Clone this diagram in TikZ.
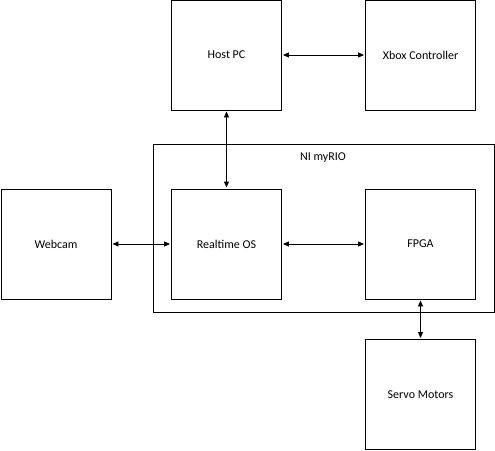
\documentclass[tikz,border=0pt]{standalone}
\usepackage{fontspec}
\setmainfont{Carlito}
\usetikzlibrary{arrows.meta,positioning}

\begin{document}
\begin{tikzpicture}[
    x=1pt, y=-1pt,
    >={Triangle[length=6pt,width=5pt]},
    block/.style={draw, line width=0.9pt, minimum width=110pt, minimum height=110pt, inner sep=0pt, align=center, font=\fontsize{12}{14}\selectfont},
    link/.style={<->, line width=0.9pt, shorten >=1pt, shorten <=1pt},
    title/.style={font=\fontsize{12}{14}\selectfont}
]
\useasboundingbox (0,0) rectangle (495,450);
% myRIO housing
\draw[line width=0.9pt] (153.5,144.5) rectangle (494,312);
\node[title] (rio) at (323,158) {NI myRIO};
% blocks
\node[block] (host) at (226.5,55) {Host PC};
\node[block] (xbox) at (420.5,55) {Xbox Controller};
\node[block] (cam) at (56,244) {Webcam};
\node[block] (rtos) at (226.5,244) {Realtime OS};
\node[block] (fpga) at (420.5,244) {FPGA};
\node[block] (servo) at (420.5,394.5) {Servo Motors};
% links
\draw[link] (host) -- (xbox);
\draw[link] (host) -- (rtos);
\draw[link] (cam) -- (rtos);
\draw[link] (rtos) -- (fpga);
\draw[link] (fpga) -- (servo);
\end{tikzpicture}
\end{document}
